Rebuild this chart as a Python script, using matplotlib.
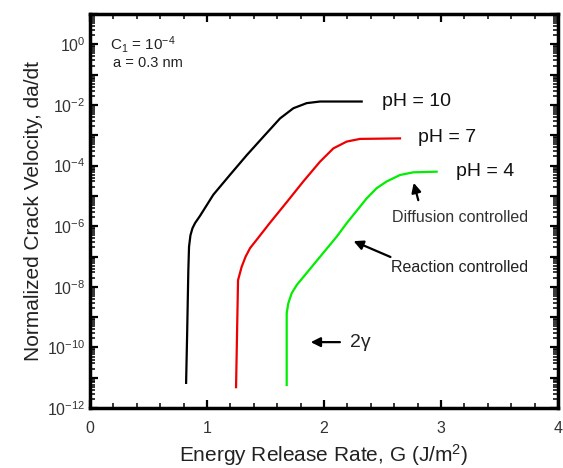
import matplotlib
matplotlib.use('Agg')
import matplotlib.pyplot as plt
from matplotlib.ticker import LogLocator, FuncFormatter, MultipleLocator, NullFormatter
import numpy as np

plt.rcParams['font.family'] = ['Liberation Sans', 'DejaVu Sans']
plt.rcParams['mathtext.fontset'] = 'custom'
plt.rcParams['mathtext.rm'] = 'Liberation Sans'
plt.rcParams['mathtext.it'] = 'Liberation Sans:italic'
plt.rcParams['mathtext.bf'] = 'Liberation Sans:bold'

# crack velocity curves
g_ph10 = [0.821, 0.830, 0.840, 0.846, 0.858, 0.875, 0.897, 0.940, 1.054, 1.197, 1.339,
          1.481, 1.624, 1.738, 1.852, 1.966, 2.322]
v_ph10 = [6.8e-12, 3.0e-10, 3.5e-8, 2.1e-7, 5.0e-7, 8.5e-7, 1.26e-6, 2.2e-6, 1.1e-5,
          5.0e-5, 2.2e-4, 8.9e-4, 3.6e-3, 7.8e-3, 1.15e-2, 1.3e-2, 1.3e-2]

g_ph7 = [1.248, 1.265, 1.296, 1.330, 1.368, 1.425, 1.538, 1.681, 1.823, 1.966, 2.080,
         2.194, 2.308, 2.65]
v_ph7 = [4.9e-12, 1.66e-8, 4.6e-8, 1.0e-7, 1.9e-7, 3.6e-7, 1.3e-6, 6.2e-6, 3.0e-5,
         1.35e-4, 3.7e-4, 6.2e-4, 7.6e-4, 7.9e-4]

g_ph4 = [1.681, 1.681, 1.695, 1.724, 1.767, 1.823, 1.966, 2.108, 2.194, 2.365, 2.450,
         2.536, 2.650, 2.763, 2.963]
v_ph4 = [5.8e-12, 1.35e-9, 2.9e-9, 6.2e-9, 1.15e-8, 2.1e-8, 9.8e-8, 4.5e-7, 1.26e-6,
         8.3e-6, 1.8e-5, 3.0e-5, 4.9e-5, 6.0e-5, 6.3e-5]

curves = [
    (g_ph10, v_ph10, 'black', 'pH = 10', (2.50, 1.26e-2)),
    (g_ph7, v_ph7, '#ee0000', 'pH = 7', (2.80, 8.5e-4)),
    (g_ph4, v_ph4, '#00ee00', 'pH = 4', (3.13, 6.2e-5)),
]

fig = plt.figure(figsize=(5.63, 4.68), dpi=100)
ax = fig.add_axes([0.160, 0.128, 0.831, 0.842])

for g, v, c, lab, pos in curves:
    ax.plot(g, v, color=c, linewidth=1.6)
    ax.text(pos[0], pos[1], lab, fontsize=14, va='center', ha='left', color='#111111')

ax.set_yscale('log')
ax.set_xlim(0, 4)
ax.set_ylim(1e-12, 1e1)

ax.xaxis.set_major_locator(MultipleLocator(1))
ax.xaxis.set_minor_locator(MultipleLocator(0.2))
ax.yaxis.set_major_locator(LogLocator(base=10, numticks=30))
ax.yaxis.set_minor_locator(LogLocator(base=10, subs=np.arange(2, 10), numticks=30))
ax.yaxis.set_minor_formatter(NullFormatter())


def fmt(v, pos):
    e = int(round(np.log10(v)))
    if e % 2 == 0 and e <= 0:
        return '10$^{%d}$' % e
    return ''


ax.yaxis.set_major_formatter(FuncFormatter(fmt))

ax.tick_params(which='both', direction='in', top=True, right=True, colors='black',
               labelcolor='#333333', labelsize=11.5)
ax.tick_params(which='major', length=6, width=1.6)
ax.tick_params(which='minor', length=3.5, width=1.1)
ax.tick_params(axis='x', pad=9)
for s in ax.spines.values():
    s.set_linewidth(2.5)

ax.set_xlabel('Energy Release Rate, G (J/m$^2$)', fontsize=15, color='#222222', labelpad=5)
ax.set_ylabel('Normalized Crack Velocity, da/dt', fontsize=15, color='#222222', labelpad=3)

ax.text(0.17, 1.0, '$\\mathrm{C}_1$ = 10$^{-4}$', fontsize=11, va='center', color='#222222')
ax.text(0.2, 0.25, 'a = 0.3 nm', fontsize=10.5, va='center', color='#222222')

arrow = dict(arrowstyle='-|>', color='black', lw=1.6, mutation_scale=14)
ax.annotate('', xy=(2.761, 3.3e-5), xytext=(2.812, 5.9e-6), arrowprops=arrow)
ax.text(3.162, 1.9e-6, 'Diffusion controlled', fontsize=11.5, ha='center', va='center',
        color='#333333')
ax.annotate('', xy=(2.231, 3.5e-7), xytext=(2.590, 8.9e-8), arrowprops=arrow)
ax.text(3.162, 4.2e-8, 'Reaction controlled', fontsize=11.5, ha='center', va='center',
        color='#222222')
ax.annotate('', xy=(1.863, 1.5e-10), xytext=(2.16, 1.5e-10), arrowprops=arrow)
ax.text(2.22, 1.5e-10, '2γ', fontsize=14, ha='left', va='center', color='#222222')

fig.savefig('out.png', dpi=100)
